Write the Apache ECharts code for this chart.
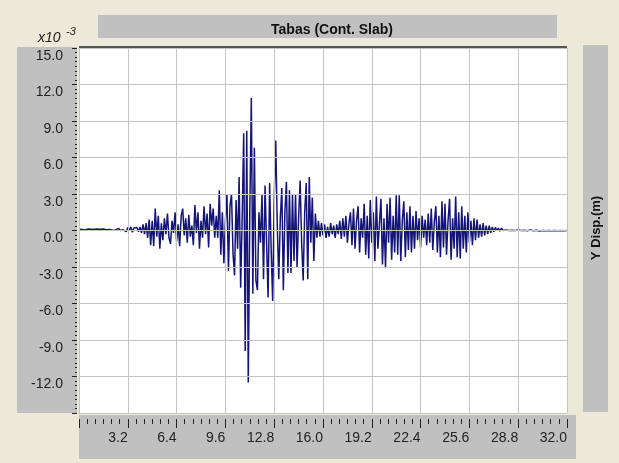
<!DOCTYPE html>
<html lang="en">
<head>
    <meta http-equiv="Content-Type" content="text/html;charset=utf-8">
    <title>Tabas (Cont. Slab)</title>
    <script type="text/javascript" src="https://cdn.jsdelivr.net/npm/echarts/dist/echarts.min.js"></script>
    <style>
        body { margin: 0; background: #ece9d8; }
        #main { width: 619px; height: 463px; }
    </style>
</head>
<body>
<div id="main"></div>
<script>
    // Y displacement, x10^-3 m, sampled every dt seconds
    var dt = 0.1;
    var quiet = [
        0.1, 0.12, 0.08, 0.1, 0.05, 0.1, 0.12, 0.06, 0.1, 0.08,
        0.1, 0.05, 0.12, 0.08, 0.1, 0.04, 0.12, 0.1, 0.06, 0.1,
        0.08, 0.12, 0.02, 0.15, 0.05, 0.1, 0.18, 0.0, 0.12, 0.06,
        0.2, -0.1, 0.25, 0.0, 0.3, -0.15, 0.2, 0.05, 0.25, -0.1
    ];
    var onset = [
        0.3, -0.2, 0.5, -0.3, 0.6, -0.6, 0.9, -1.2, 0.8, -1.3,
        1.8, -0.5, 1.2, -1.5, 0.6, -0.8, 1.0, -0.3, 1.4, -0.6,
        -1.1, 0.8, -0.2, 1.5, -0.9, 0.5, -1.3, 1.2, 1.8, -0.4,
        1.0, -1.0, 1.3, -0.5, 0.4, -1.2, 2.1, -0.2, 1.5, -1.5,
        0.8, -0.6, 2.0, -0.3, 1.4, -1.4, 2.2, 0.4, 1.8, -0.6
    ];
    var strong = [
        1.2, -0.6, 3.3, -2.0, 1.5, -2.7, 0.8, 3.0, -3.3, 2.0,
        3.0, -1.9, -3.7, 2.5, -1.5, 4.4, -4.7, 1.0, 8.0, -9.9,
        8.2, -12.5, 1.5, 10.9, -5.2, 6.8, -4.1, -4.9, 1.5, -1.0,
        3.0, -4.0, 3.7, -1.0, -5.5, 3.9, -1.5, -5.8, 2.5, 7.4,
        0.5, -4.0, 1.0, 3.5, -4.9, 1.5, 4.0, -3.5, 3.3, -3.5,
        3.0, -2.5, 3.0, -3.0, 1.0, 4.1, -1.0, -4.1, 1.5, 3.9,
        -4.0, 4.4, -1.0, 2.7, -2.5, 1.4, -0.6, 0.8, -0.5, 0.6
    ];
    var lull = [-0.4, 0.5, -0.6, 0.3, -0.5, 0.6, -0.3, 0.4, -0.6, 0.5];
    var second = [
        -0.3, 0.8, -0.7, 1.0, -0.5, 1.2, -1.0, 0.6, 1.5, -1.2,
        1.8, -1.5, 0.8, 2.0, -1.8, 1.0, -0.6, 2.2, -2.0, 1.2,
        -2.3, 2.5, -1.0, 1.5, -2.5, 2.8, -1.5, 0.5, 2.6, -2.8,
        1.0, -3.1, 2.2, -1.0, 2.7, -2.4, 1.2, -1.8, 2.9, -2.0,
        2.9, -2.5, 0.8, 2.4, -2.2, 1.5, -1.6, 2.0, -1.8, 1.2,
        -1.5, 1.6, -0.8, 1.0, -1.4, 1.2, -0.6, 0.9, -1.2, 1.4,
        -1.0, 1.8, -1.6, 0.7, 2.0, -1.8, 1.2, -2.2, 2.4, -1.4,
        2.2, -2.0, 0.8, 2.6, -2.4, 1.0, -1.5, 2.8, -2.2, 1.5,
        -2.3, 2.0, -1.5, 1.2, -1.8, 1.5, -1.0, 0.8, -1.2, 1.0,
        -0.8, 0.9, -0.6, 0.5, -0.5, 0.6, -0.4, 0.4, -0.3, 0.4
    ];
    var tail = [
        -0.2, 0.3, -0.1, 0.25, 0.0, 0.2, -0.05, 0.2, 0.0, 0.15,
        0.05, 0.12, 0.0, 0.1, 0.02, 0.12, 0.0, 0.08, 0.04, 0.1,
        0.0, 0.08, 0.02, 0.1, -0.02, 0.06, 0.04, 0.08, -0.02, 0.05,
        0.02, 0.06, -0.04, 0.05, 0.0, 0.04, -0.03, 0.05, 0.0, 0.03,
        -0.02, 0.04, 0.0, 0.03, -0.03, 0.04, 0.0, 0.02, -0.02, 0.03, 0.0
    ];
    var segments = [[0, quiet], [4, onset], [9, strong], [16, lull], [17, second], [27, tail]];

    var data = [];
    segments.forEach(function (s) {
        s[1].forEach(function (v, i) {
            data.push([+(s[0] + i * dt).toFixed(2), v]);
        });
    });

    var font = '"Liberation Sans", Arial, sans-serif';
    var panel = '#c0c0c0';

    var myChart = echarts.init(document.getElementById('main'));
    var option = {
        backgroundColor: '#ece9d8',
        animation: false,
        title: {
            text: 'Tabas (Cont. Slab)',
            left: 327,
            top: 18,
            textAlign: 'center',
            textStyle: {fontFamily: font, fontSize: 14, fontWeight: 'bold', color: '#111'}
        },
        grid: {
            left: 79, right: 52, top: 48, bottom: 50,
            show: true,
            backgroundColor: '#fff',
            borderWidth: 0
        },
        xAxis: {
            type: 'value',
            min: 0, max: 32, interval: 3.2,
            offset: 6,
            z: 5,
            axisLine: {show: false, onZero: false},
            axisTick: {show: true, length: 9, lineStyle: {color: '#222'}},
            minorTick: {show: true, splitNumber: 6, length: 5, lineStyle: {color: '#222'}},
            splitLine: {show: true, lineStyle: {color: '#c4c4c4'}},
            axisLabel: {
                margin: 12,
                align: 'right',
                fontFamily: font, fontSize: 14, color: '#222',
                formatter: function (v) { return v === 0 ? '' : v.toFixed(1); }
            }
        },
        yAxis: {
            type: 'value',
            min: -15, max: 15, interval: 3,
            offset: 2,
            z: 5,
            axisLine: {show: false, onZero: false},
            axisTick: {show: true, length: 5, lineStyle: {color: '#222'}},
            minorTick: {show: true, splitNumber: 8, length: 2, lineStyle: {color: '#222'}},
            splitLine: {show: true, lineStyle: {color: '#c4c4c4'}},
            axisLabel: {
                margin: 14,
                verticalAlign: 'top',
                padding: [1, 0, 0, 0],
                fontFamily: font, fontSize: 14, color: '#222',
                formatter: function (v) { return v === -15 ? '' : v.toFixed(1); }
            }
        },
        graphic: [
            {type: 'rect', z: -1, shape: {x: 98, y: 15, width: 459, height: 23}, style: {fill: panel}},
            {type: 'rect', z: -1, shape: {x: 17, y: 47, width: 60, height: 366}, style: {fill: panel}},
            {type: 'rect', z: -1, shape: {x: 79, y: 415, width: 497, height: 44}, style: {fill: panel}},
            {type: 'rect', z: -1, shape: {x: 583, y: 45, width: 25, height: 367}, style: {fill: panel}},
            {type: 'line', z: 10, shape: {x1: 79, y1: 47, x2: 567, y2: 47}, style: {stroke: '#555', lineWidth: 2}},
            {type: 'text', z: 10, x: 38, y: 31, style: {text: 'x10', font: 'italic 14px ' + font, fill: '#222'}},
            {type: 'text', z: 10, x: 66, y: 26, style: {text: '-3', font: 'italic 11px ' + font, fill: '#222'}},
            {type: 'text', z: 10, x: 596, y: 228, rotation: Math.PI / 2,
                style: {text: 'Y Disp.(m)', font: 'bold 13px ' + font, fill: '#111', align: 'center', verticalAlign: 'middle'}}
        ],
        series: [{
            type: 'line',
            data: data,
            showSymbol: false,
            clip: true,
            lineStyle: {color: '#14147a', width: 1.5},
            itemStyle: {color: '#14147a'}
        }]
    };
    myChart.setOption(option);
</script>
</body>
</html>
